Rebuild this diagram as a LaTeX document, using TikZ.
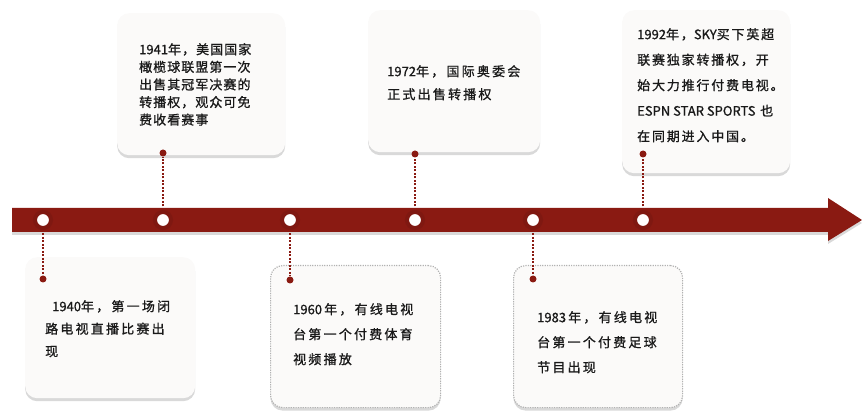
\documentclass[tikz,border=0pt]{standalone}
\usepackage{fontspec}
\usetikzlibrary{shadows}
\newfontfamily\cjkA[LetterSpace=17,FakeBold=1]{Noto Sans CJK SC}
\newfontfamily\cjkB[LetterSpace=8,FakeBold=1]{Noto Sans CJK SC}
\newfontfamily\cjkC[LetterSpace=14,FakeBold=1]{Noto Sans CJK SC}
\newfontfamily\cjkN[FakeBold=1]{Noto Sans CJK SC}
\newcommand\yr[1]{{\cjkN #1}}
\definecolor{barred}{RGB}{138,26,18}
\definecolor{boxfill}{RGB}{251,250,249}
\definecolor{txt}{RGB}{25,25,25}
\begin{document}
\begin{tikzpicture}[x=1pt,y=-1pt,
  card/.style={rectangle, rounded corners=12pt, fill=boxfill, anchor=north west, inner sep=0pt,
    drop shadow={opacity=0.3, shadow xshift=0pt, shadow yshift=-3pt}},
  dotcard/.style={card, draw=gray!60, dash pattern=on 1.2pt off 1.2pt, line width=1.2pt},
  ring/.style={circle, fill=white, draw=barred!92!black, line width=4pt, minimum size=16pt, inner sep=0pt},
  reddot/.style={circle, fill=barred, minimum size=7pt, inner sep=0pt},
  conn/.style={barred, line width=2pt, dash pattern=on 2pt off 1.5pt},
  label/.style={anchor=north west, inner sep=0pt, align=left, text=txt},
]
\useasboundingbox (0,0) rectangle (862,411);
% timeline bar
\fill[barred, drop shadow={opacity=0.3, shadow xshift=0pt, shadow yshift=-3pt}]
  (12,208) -- (828,208) -- (828,198) -- (862,220) -- (828,241) -- (828,232) -- (12,232) -- cycle;
% circles
\node[ring] (c1) at (43,220) {};
\node[ring] (c2) at (163,220) {};
\node[ring] (c3) at (290,220) {};
\node[ring] (c4) at (415,220) {};
\node[ring] (c5) at (533,220) {};
\node[ring] (c6) at (643,220) {};
% cards
\node[card, minimum width=170pt, minimum height=141pt] (b1) at (25,257) {};
\node[card, minimum width=168pt, minimum height=142pt] (b2) at (117,13) {};
\node[dotcard, minimum width=170pt, minimum height=142pt] (b3) at (270,265) {};
\node[card, minimum width=172pt, minimum height=142pt] (b4) at (368,10) {};
\node[dotcard, minimum width=169pt, minimum height=142pt] (b5) at (513,265) {};
\node[card, minimum width=168pt, minimum height=163pt] (b6) at (622,10) {};
% dots
\node[reddot] (d1) at (43,279) {};
\node[reddot] (d2) at (163,153) {};
\node[reddot] (d3) at (290,280) {};
\node[reddot] (d4) at (415,154) {};
\node[reddot] (d5) at (533,279) {};
\node[reddot] (d6) at (643,154) {};
% connectors
\draw[conn] (c1) -- (d1);
\draw[conn] (c2) -- (d2);
\draw[conn] (c3) -- (d3);
\draw[conn] (c4) -- (d4);
\draw[conn] (c5) -- (d5);
\draw[conn] (c6) -- (d6);
% texts
\node[label, font=\cjkA\fontsize{13}{22.5}\selectfont] (t1) at (45,300)
  {\hspace*{7pt}\yr{1940}年，第一场闭\\路电视直播比赛出\\现};
\node[label, font=\cjkB\fontsize{13}{17.6}\selectfont] (t2) at (139,43)
  {\yr{1941}年，美国国家\\橄榄球联盟第一次\\出售其冠军决赛的\\转播权，观众可免\\费收看赛事};
\node[label, font=\cjkA\fontsize{13}{25}\selectfont] (t3) at (293,303)
  {\yr{1960}\,年，有线电视\\台第一个付费体育\\视频播放};
\node[label, font=\cjkA\fontsize{13}{23}\selectfont] (t4) at (387,65)
  {\yr{1972}年，国际奥委会\\正式出售转播权};
\node[label, font=\cjkA\fontsize{13}{25}\selectfont] (t5) at (537,311)
  {\yr{1983}\,年，有线电视\\台第一个付费足球\\节目出现};
\node[label, font=\cjkC\fontsize{13}{25.5}\selectfont] (t6) at (637,28)
  {\yr{1992}年，\yr{SKY}买下英超\\联赛独家转播权，开\\始大力推行付费电视。\\\yr{ESPN STAR SPORTS} 也\\在同期进入中国。};
\end{tikzpicture}
\end{document}
